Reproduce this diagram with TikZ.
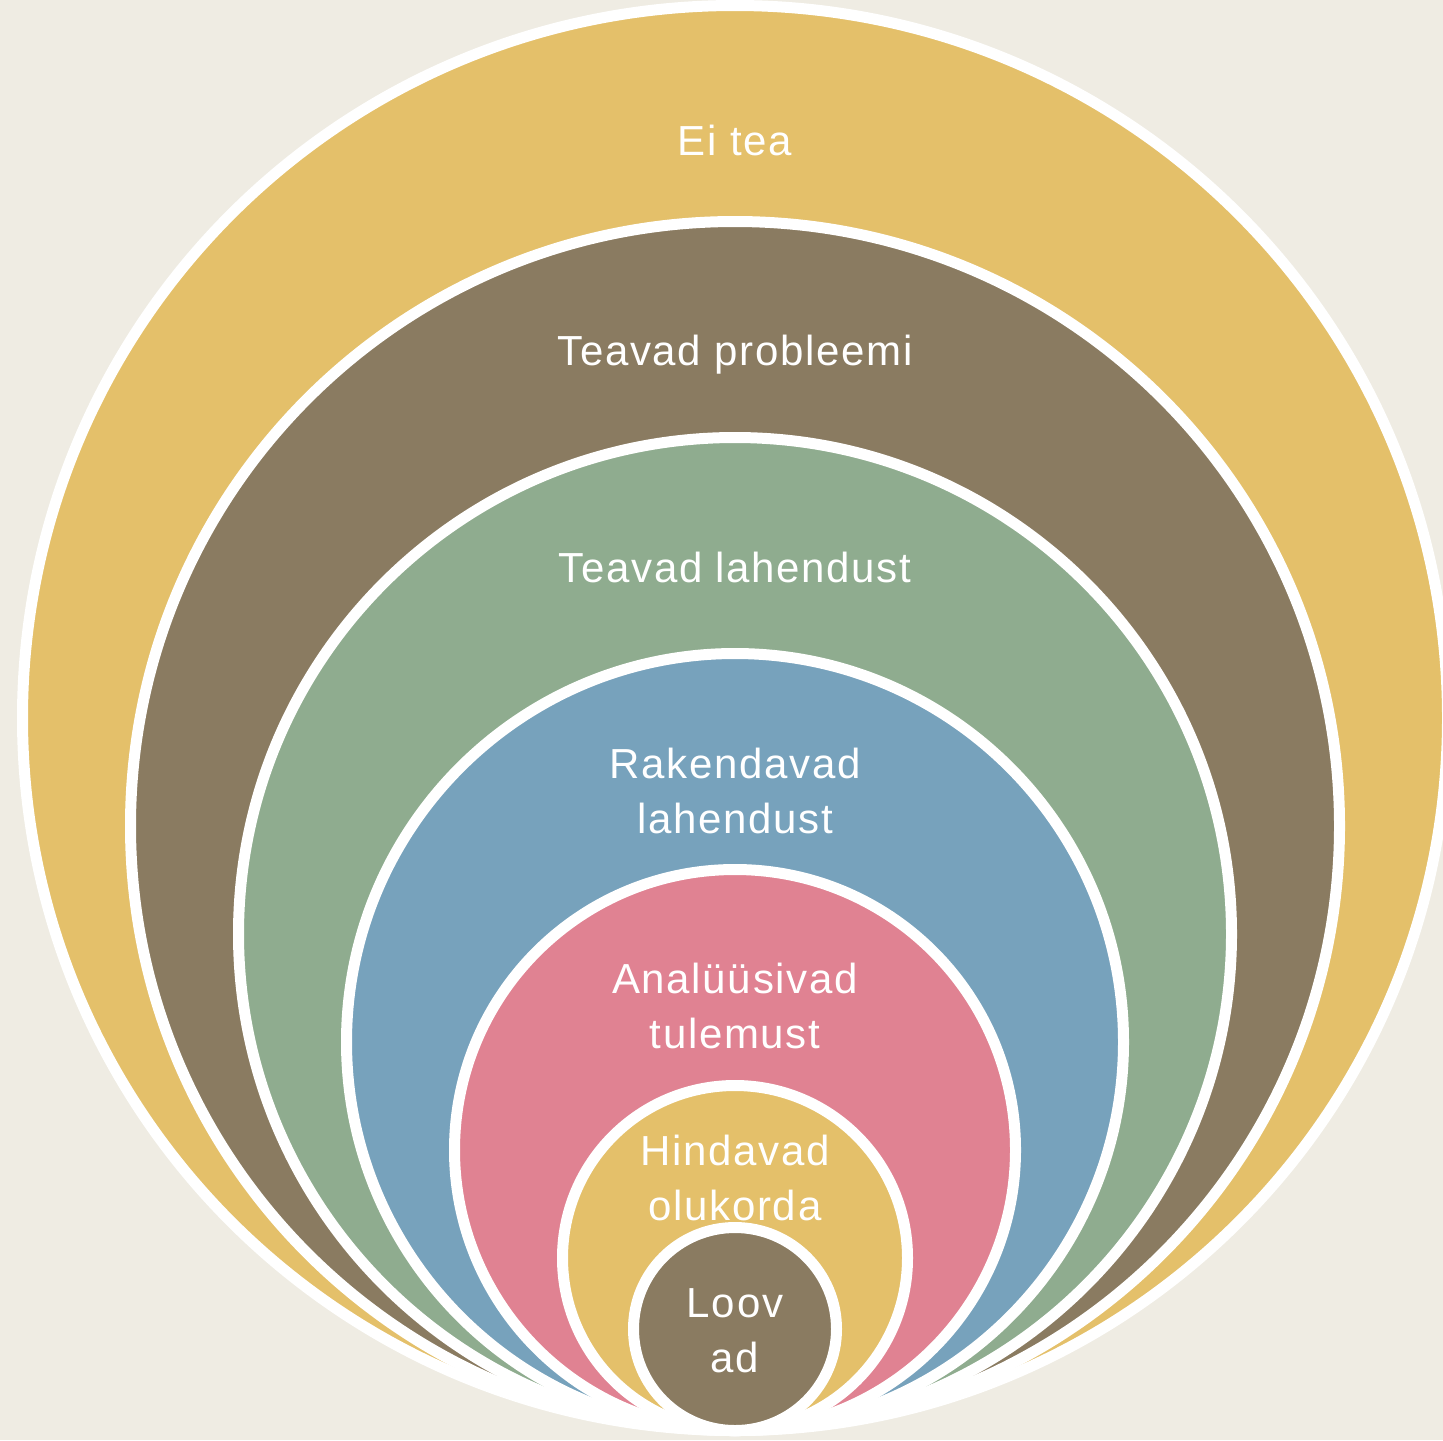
\documentclass[tikz,border=0pt]{standalone}
\usepackage{fontspec}
\setmainfont[LetterSpace=4]{Liberation Sans}
\usetikzlibrary{positioning}
\definecolor{bgcol}{HTML}{EFECE3}
\definecolor{gold}{HTML}{E4C06A}
\definecolor{umber}{HTML}{8A7B61}
\definecolor{sage}{HTML}{8FAC8F}
\definecolor{steel}{HTML}{77A2BC}
\definecolor{rose}{HTML}{E08292}

\begin{document}
\begin{tikzpicture}[x=0.5pt,y=-0.5pt,
    ring/.style={circle,draw=white,line width=5.5pt,inner sep=0pt,outer sep=0pt},
    lbl/.style={white,align=center,font=\fontsize{21}{27.5}\selectfont}]
    \useasboundingbox (0,0) rectangle (1443,1440);
    \fill[bgcol] (0,0) rectangle (1443,1440);

    % nested rings, all touching at the bottom
    \foreach \i/\r/\c in {1/718/gold,2/610/umber,3/502/sage,4/394/steel,5/286/rose,6/178/gold,7/107/umber}
        \node[ring,fill=\c,minimum size=\r pt-5.5pt] (ring\i) at (735,1436-\r) {};

    \node[lbl] (eitea) at (735,140) {Ei tea};
    \node[lbl] (probleem) at (735,354.5) {Teavad probleemi};
    \node[lbl] (lahendus) at (735,567) {Teavad lahendust};
    \node[lbl] (rakendus) at (735,790.5) {Rakendavad\\lahendust};
    \node[lbl] (analyys) at (735,1005.5) {Analüüsivad\\tulemust};
    \node[lbl] (hindamine) at (735,1177.5) {Hindavad\\olukorda};
    \node[lbl] (loovus) at (735,1330.5) {Loov\\ad};
\end{tikzpicture}
\end{document}
